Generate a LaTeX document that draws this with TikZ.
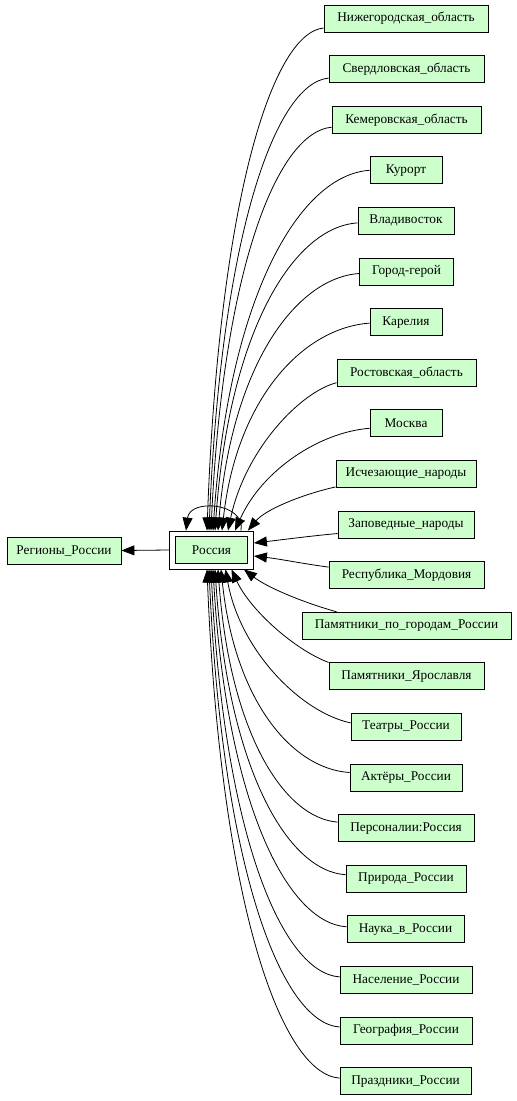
\documentclass[tikz,border=0pt]{standalone}
\usepackage{fontspec}
\setmainfont{Liberation Serif}
\usetikzlibrary{arrows.meta,calc}
\definecolor{nodegreen}{HTML}{CCFFCC}
\begin{document}
\begin{tikzpicture}[x=1pt,y=-1pt,
  box/.style={draw, line width=0.8pt, fill=nodegreen, minimum height=27pt, inner sep=2pt,
    font=\fontsize{13.3}{16}\selectfont},
  edge/.style={draw, line width=0.8pt, -{Triangle[length=13pt,width=10pt]}}]
\useasboundingbox[fill=white] (0,0) rectangle (517,1101);
% central node
\node[draw, line width=0.8pt, fill=white, minimum width=84pt, minimum height=38pt] (ro) at (211.5,550) {};
\node[box, minimum width=72pt] (ri) at (211.5,550) {Россия};
\node[box, minimum width=114pt] (reg) at (64,550.5) {Регионы\_России};
% right column
\node[box, minimum width=164pt] (n1) at (406,18.5) {Нижегородская\_область};
\node[box, minimum width=155pt] (n2) at (406.5,69.1) {Свердловская\_область};
\node[box, minimum width=149pt] (n3) at (406.5,119.7) {Кемеровская\_область};
\node[box, minimum width=72pt] (n4) at (406,170.3) {Курорт};
\node[box, minimum width=96pt] (n5) at (406,220.9) {Владивосток};
\node[box, minimum width=94pt] (n6) at (406.5,271.5) {Город-герой};
\node[box, minimum width=72pt] (n7) at (406,322.1) {Карелия};
\node[box, minimum width=139pt] (n8) at (406.5,372.7) {Ростовская\_область};
\node[box, minimum width=72pt] (n9) at (406,423.3) {Москва};
\node[box, minimum width=140pt] (n10) at (406,473.9) {Исчезающие\_народы};
\node[box, minimum width=136pt] (n11) at (406,524.5) {Заповедные\_народы};
\node[box, minimum width=155pt] (n12) at (406.5,575.1) {Республика\_Мордовия};
\node[box, minimum width=209pt] (n13) at (406.5,625.7) {Памятники\_по\_городам\_России};
\node[box, minimum width=155pt] (n14) at (406.5,676.3) {Памятники\_Ярославля};
\node[box, minimum width=110pt] (n15) at (406,726.9) {Театры\_России};
\node[box, minimum width=112pt] (n16) at (406,777.5) {Актёры\_России};
\node[box, minimum width=136pt] (n17) at (406,828.1) {Персоналии:Россия};
\node[box, minimum width=120pt] (n18) at (406,878.7) {Природа\_России};
\node[box, minimum width=117pt] (n19) at (405.5,929.3) {Наука\_в\_России};
\node[box, minimum width=132pt] (n20) at (406,979.9) {Население\_России};
\node[box, minimum width=132pt] (n21) at (406,1030.5) {География\_России};
\node[box, minimum width=131pt] (n22) at (405.5,1081.1) {Праздники\_России};
% edges
\draw[edge] (ro.west) -- (reg.east);
\draw[edge] ($(ro.north)+(29.5,0)$) .. controls (246,503) and (190,498) .. ($(ro.north)+(-25.5,0)$);
\draw[edge] ($(n1.west)+(0,9.5)$) .. controls (271.4,33) and (218.7,204) .. ($(ro.north)+(-4.5,0)$);
\draw[edge] ($(n2.west)+(0,9)$) .. controls (275,83) and (221,236.5) .. ($(ro.north)+(-2.5,0)$);
\draw[edge] ($(n3.west)+(0,7.5)$) .. controls (277.5,132) and (223,268.4) .. ($(ro.north)+(-0.5,0)$);
\draw[edge] ($(n4.west)+(0,0)$) .. controls (299.4,175) and (228.7,296) .. ($(ro.north)+(1.5,0)$);
\draw[edge] ($(n5.west)+(0,2)$) .. controls (293.7,227) and (229.3,330) .. ($(ro.north)+(3.5,0)$);
\draw[edge] ($(n6.west)+(0,2)$) .. controls (296,278) and (232,364.6) .. ($(ro.north)+(6.5,0)$);
\draw[edge] ($(n7.west)+(0,1)$) .. controls (302.9,328) and (236.7,398.4) .. ($(ro.north)+(10.5,0)$);
\draw[edge] ($(n8.west)+(0,10)$) .. controls (300,392) and (245,450) .. ($(ro.north)+(16.5,0)$);
\draw[edge] ($(n9.west)+(0,5)$) .. controls (320,432) and (262,470) .. ($(ro.north)+(23.5,0)$);
\draw[edge] ($(n10.west)+(0,13)$) .. controls (300,495) and (265,510) .. ($(ro.north east)+(-6,0)$);
\draw[edge] ($(n11.west)+(0,9)$) .. controls (310,536) and (280,540) .. ($(ro.east)+(0,-7)$);
\draw[edge] ($(n12.west)+(0,-8)$) .. controls (305,564) and (280,559) .. ($(ro.east)+(0,6)$);
\draw[edge] ($(n13.north west)+(35,0)$) .. controls (305,603) and (268,588) .. ($(ro.south east)+(-10,0)$);
\draw[edge] (n14.north west) .. controls (295,650) and (250,610) .. ($(ro.south)+(20,0)$);
\draw[edge] ($(n15.west)+(0,-4)$) .. controls (300,712) and (240,650) .. ($(ro.south)+(14,0)$);
\draw[edge] ($(n16.west)+(0,-5)$) .. controls (292.4,769) and (234.8,701.6) .. ($(ro.south)+(9.5,0)$);
\draw[edge] ($(n17.west)+(0,-6)$) .. controls (284,818) and (230,733.5) .. ($(ro.south)+(6.5,0)$);
\draw[edge] ($(n18.west)+(0,-4)$) .. controls (287,871) and (228.1,767.9) .. ($(ro.south)+(3.5,0)$);
\draw[edge] ($(n19.west)+(0,-2.5)$) .. controls (286.7,923) and (226.4,801.7) .. ($(ro.south)+(1.5,0)$);
\draw[edge] ($(n20.west)+(0,-3)$) .. controls (282,973) and (223.9,834.2) .. ($(ro.south)+(-0.5,0)$);
\draw[edge] ($(n21.west)+(0,-3.5)$) .. controls (281,1023) and (222.1,866.7) .. ($(ro.south)+(-2.5,0)$);
\draw[edge] ($(n22.west)+(0,-3)$) .. controls (280.2,1074) and (220.3,899.9) .. ($(ro.south)+(-4.5,0)$);
\end{tikzpicture}
\end{document}
